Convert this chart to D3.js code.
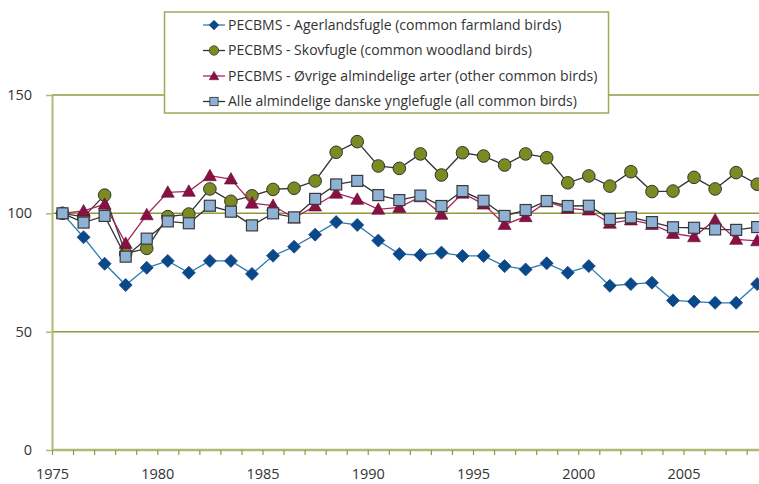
<!DOCTYPE html>
<html><head><meta charset="utf-8">
<script src="https://cdn.jsdelivr.net/npm/d3@7"></script>
<style>body{margin:0;background:#fff}svg{display:block}</style>
</head><body>
<svg id="c" width="759" height="484"></svg>
<script>
const years = d3.range(1975, 2009);
const farmland = [100,89.9,78.7,69.7,77.0,79.9,74.9,79.9,79.9,74.4,82.1,85.9,91.0,96.3,95.1,88.5,82.8,82.4,83.4,82.0,82.0,77.7,76.3,78.9,74.9,77.7,69.4,70.1,70.7,63.2,62.7,62.2,62.2,70.1];
const woodland = [100,98.5,107.7,83.0,85.2,98.6,99.7,110.3,105.1,107.4,110.1,110.6,113.7,125.8,130.3,120.0,119.0,125.1,116.2,125.6,124.2,120.4,125.1,123.5,112.9,115.8,111.5,117.6,109.2,109.4,115.2,110.3,117.2,112.3];
const other = [100,101,103.8,87.3,99.4,108.9,109.3,115.9,114.5,104.3,103.3,98.0,103.1,108.5,105.9,101.7,102.5,107.0,99.6,108.5,103.9,95.3,98.6,104.9,102.1,101.4,95.8,97.2,95.3,91.5,90.1,97.2,89.0,88.4];
const allBirds = [100,96.1,98.9,81.7,89.3,96.6,95.8,103.2,100.7,94.9,100.0,98.3,106.1,112.2,113.7,107.7,105.6,107.5,103.1,109.4,105.3,98.9,101.4,105.2,103.1,103.2,97.6,98.3,96.3,94.1,93.9,93.2,93.0,94.2];
const seriesNames = [
  "PECBMS - Agerlandsfugle (common farmland birds)",
  "PECBMS - Skovfugle (common woodland birds)",
  "PECBMS - Øvrige almindelige arter (other common birds)",
  "Alle almindelige danske ynglefugle (all common birds)"
];
const yTicks = [0,50,100,150];
const xTickLabels = [1975,1980,1985,1990,1995,2000,2005];

const svg = d3.select("#c");
const x = d3.scaleLinear().domain([1975, 2008.5]).range([52, 757.2]);
const y = d3.scaleLinear().domain([0,150]).range([450, 95]);
const font = "'Open Sans', sans-serif";

// gridlines
svg.append("g").selectAll("line").data(yTicks.filter(d=>d>0)).join("line")
  .attr("x1",52).attr("x2",759).attr("y1",d=>y(d)).attr("y2",d=>y(d))
  .attr("stroke","#8f9a3e").attr("stroke-width",1.5);

// y axis
const yAxis = d3.axisLeft(y).tickValues(yTicks).tickSize(6).tickPadding(14).tickSizeOuter(0);
const gy = svg.append("g").attr("transform","translate(52,0)").call(yAxis);
gy.select(".domain").attr("stroke","#b3b777").attr("stroke-width",2);
gy.selectAll(".tick line").attr("stroke","#b3b777").attr("stroke-width",1.5);
gy.selectAll(".tick text").attr("font-family",font).attr("font-size",14.5).attr("fill","#333");

// x axis
const xAxis = d3.axisBottom(x).tickValues(d3.range(1975,2009)).tickSize(5).tickPadding(14).tickSizeOuter(0)
  .tickFormat(d => xTickLabels.includes(d) ? d : "");
const gx = svg.append("g").attr("transform","translate(0,450)").call(xAxis);
gx.select(".domain").attr("stroke","#b3b777").attr("stroke-width",2.5).attr("d","M52,0H759");
gx.selectAll(".tick line").attr("stroke","#8f9a3e").attr("stroke-width",1.2);
gx.selectAll(".tick text").attr("font-family",font).attr("font-size",14.5).attr("fill","#333");

const series = [
  {data: farmland, line:"#2a7db0", fill:"#064a8a", stroke:"#2c3f8c", shape:"diamond"},
  {data: woodland, line:"#333333", fill:"#7c8a22", stroke:"#333333", shape:"circle"},
  {data: other, line:"#a6265f", fill:"#8a0f45", stroke:"#5a1030", shape:"triangle"},
  {data: allBirds, line:"#333333", fill:"#8fb1d6", stroke:"#3a3a3a", shape:"square"}
];
function marker(g, shape, fill, stroke){
  if(shape==="diamond") g.append("path").attr("d","M0,-6.5L6.5,0L0,6.5L-6.5,0Z").attr("fill",fill).attr("stroke",stroke).attr("stroke-width",0.8);
  if(shape==="circle") g.append("circle").attr("r",6.3).attr("fill",fill).attr("stroke",stroke).attr("stroke-width",1);
  if(shape==="triangle") g.append("path").attr("d","M0,-6.5L6.5,5L-6.5,5Z").attr("fill",fill).attr("stroke",stroke).attr("stroke-width",0.6);
  if(shape==="square") g.append("rect").attr("x",-5.5).attr("y",-5.5).attr("width",11).attr("height",11).attr("fill",fill).attr("stroke",stroke).attr("stroke-width",1.2);
}
const line = d3.line().x((d,i)=>x(years[i]+0.5)).y(d=>y(d));
const plot = svg.append("g");
series.forEach(s=>{
  plot.append("path").datum(s.data).attr("d",line).attr("fill","none").attr("stroke",s.line).attr("stroke-width",1.3);
  s.data.forEach((v,i)=>{
    const g = plot.append("g").attr("transform",`translate(${x(years[i]+0.5)},${y(v)})`);
    marker(g, s.shape, s.fill, s.stroke);
  });
});

// legend
const lg = svg.append("g");
lg.append("rect").attr("x",164.5).attr("y",12).attr("width",444).attr("height",101)
  .attr("fill","#fff").attr("stroke","#a2a857").attr("stroke-width",1.5);
const rowY = [25,50.5,76,101.5];
series.forEach((s,i)=>{
  const r = lg.append("g").attr("transform",`translate(0,${rowY[i]})`);
  r.append("line").attr("x1",203).attr("x2",225).attr("y1",0).attr("y2",0).attr("stroke",s.line).attr("stroke-width",1.3);
  const m = r.append("g").attr("transform","translate(214,0) scale(0.75)");
  marker(m, s.shape, s.fill, s.stroke);
  r.append("text").attr("x",228).attr("y",0).attr("dy","0.35em").attr("font-family",font)
    .attr("font-size",14).attr("fill","#333").text(seriesNames[i]);
});
</script>
</body></html>
